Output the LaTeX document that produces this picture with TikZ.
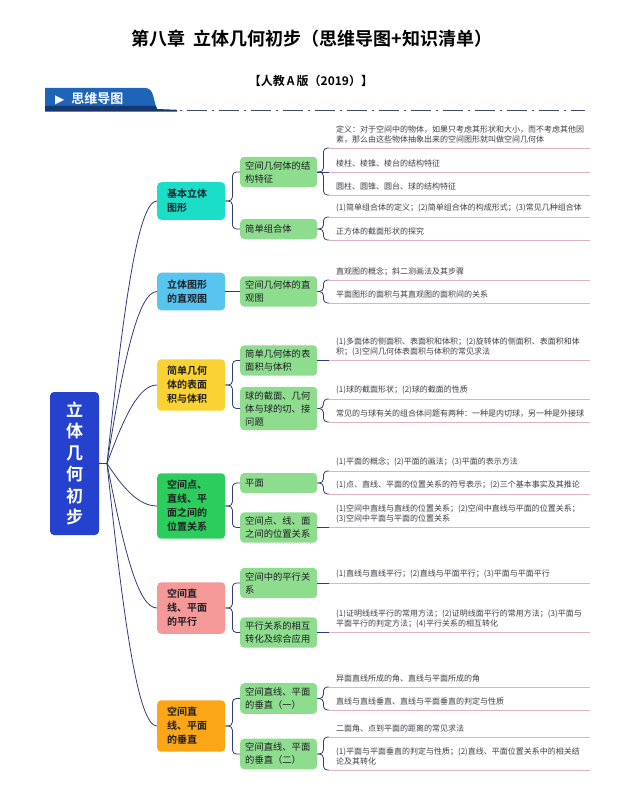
\documentclass[tikz,border=0pt]{standalone}
\usepackage{fontspec}
\setmainfont{Noto Sans CJK SC}[BoldFont={Noto Sans CJK SC Bold}]
\newfontfamily\symfont{DejaVu Sans}
\usepackage{xcolor}
\usepackage{tikz}
\usetikzlibrary{calc}
\definecolor{linkblue}{RGB}{48, 58, 125}
\definecolor{ulpink}{RGB}{222, 178, 196}
\definecolor{rootblue}{RGB}{36, 66, 205}
\definecolor{bannerblue}{RGB}{30, 100, 184}
\definecolor{bannerdark}{RGB}{22, 56, 110}
\definecolor{dashgray}{RGB}{64, 74, 104}
\definecolor{myteal}{RGB}{26, 222, 200}
\definecolor{mysky}{RGB}{88, 196, 240}
\definecolor{myyellow}{RGB}{250, 210, 52}
\definecolor{mygreen}{RGB}{44, 205, 92}
\definecolor{mypink}{RGB}{245, 152, 152}
\definecolor{myorange}{RGB}{250, 166, 22}
\definecolor{subgreen}{RGB}{142, 220, 142}
\definecolor{textdark}{RGB}{30, 30, 36}
\definecolor{leafgray}{RGB}{62, 62, 68}

\begin{document}
\begin{tikzpicture}[
    x=1pt, y=1pt,
    link/.style={draw=linkblue, line width=0.8pt, rounded corners=4pt},
    uline/.style={draw=ulpink, line width=0.8pt},
    mainbox/.style={rounded corners=4pt, anchor=west, text width=48pt, inner xsep=10pt, inner ysep=7pt, align=left, font=\fontsize{10}{14}\selectfont\bfseries, text=textdark},
    subbox/.style={fill=subgreen, rounded corners=4pt, anchor=west, text width=67pt, inner xsep=5pt, inner ysep=4.4pt, minimum height=20pt, align=left, font=\fontsize{9.3}{13}\selectfont, text=textdark},
    leaf/.style={anchor=south west, inner xsep=7pt, inner ysep=4.5pt, align=left, font=\fontsize{8}{10}\selectfont, text=leafgray},
]
    \useasboundingbox (0,0) rectangle (627,-802);

    % --- HEADER ---
    \node[font=\fontsize{18}{20}\selectfont\bfseries] (title) at (312,-39) {第八章\ \ 立体几何初步（思维导图+知识清单）};
    \node[font=\fontsize{12}{14}\selectfont\bfseries] (edition) at (311,-81) {【人教\,A\,版（2019）】};
    \fill[bannerblue] (45,-88) -- (145,-88) to[out=0, in=115] (157,-109) -- (45,-109) -- cycle;
    \fill[bannerdark] (45,-106) -- (156,-106) -- (157,-109) -- (177,-109.8) -- (177,-111.6) -- (45,-111.6) -- cycle;
    \node[anchor=west, inner sep=0pt, text=white, font=\fontsize{13}{15}\selectfont\bfseries] (banner) at (55,-99) {{\symfont\fontsize{12}{14}\selectfont ▶}\hspace{7pt}思维导图};
    \coordinate (dashL) at (180,-110.7);
    \coordinate (dashR) at (585,-110.7);
    \draw[dashgray, line width=1.5pt, dash pattern=on 2pt off 5pt on 20pt off 5pt] (dashL) -- (dashR);

    % --- ROOT ---
    \node[fill=rootblue, rounded corners=4pt, minimum width=49pt, minimum height=143pt, align=center, text=white, font=\fontsize{17}{21.5}\selectfont\bfseries] (root) at (74.5,-463.5) {立\\体\\几\\何\\初\\步};
    \coordinate (hub) at (107,-463.5);
    \draw[link] (root.east) -- (hub);

    % --- LEVEL 1 ---
    \node[mainbox, fill=myteal]   (basic) at (157,-201)   {基本立体\\图形};
    \node[mainbox, fill=mysky]    (view)  at (157,-291.5) {立体图形\\的直观图};
    \node[mainbox, fill=myyellow] (area)  at (157,-385)   {简单几何\\体的表面\\积与体积};
    \node[mainbox, fill=mygreen]  (pos)   at (157,-506)   {空间点、\\直线、平\\面之间的\\位置关系};
    \node[mainbox, fill=mypink]   (para)  at (157,-608)   {空间直\\线、平面\\的平行};
    \node[mainbox, fill=myorange] (perp)  at (157,-726)   {空间直\\线、平面\\的垂直};
    \foreach \m/\a/\d in {basic/84/170, view/81/110, area/70/50, pos/-57/30, para/-79/95, perp/-84/170}
        \draw[link] (hub) to[out=\a, in=180, out distance=\d pt, in distance=18pt] (\m.west);

    % --- LEVEL 2 ---
    \node[subbox] (struct) at (240,-172)   {空间几何体的结\\构特征};
    \node[subbox] (combo)  at (240,-229)   {简单组合体};
    \node[subbox] (intu)   at (240,-291.5) {空间几何体的直\\观图};
    \node[subbox] (surf)   at (240,-360.5) {简单几何体的表\\面积与体积};
    \node[subbox] (ball)   at (240,-408.5) {球的截面、几何\\体与球的切、接\\问题};
    \node[subbox] (plane)  at (240,-483)   {平面};
    \node[subbox] (rel)    at (240,-527.5) {空间点、线、面\\之间的位置关系};
    \node[subbox] (prl)    at (240,-583)   {空间中的平行关\\系};
    \node[subbox] (conv)   at (240,-632.5) {平行关系的相互\\转化及综合应用};
    \node[subbox] (perpa)  at (240,-698.5) {空间直线、平面\\的垂直（一）};
    \node[subbox] (perpb)  at (240,-754)   {空间直线、平面\\的垂直（二）};
    \foreach \m/\s in {basic/struct, basic/combo, area/surf, area/ball, pos/plane, pos/rel, para/prl, para/conv, perp/perpa, perp/perpb}
        \draw[link] (\m.east) -- ++(7,0) |- (\s.west);
    \draw[link] (view.east) -- (intu.west);

    % --- LEAVES ---
    \coordinate (rim) at (590,0);
    \node[leaf] (st1) at (329,-148)   {定义：对于空间中的物体，如果只考虑其形状和大小，而不考虑其他因\\素，那么由这些物体抽象出来的空间图形就叫做空间几何体};
    \node[leaf] (st2) at (329,-172)   {棱柱、棱锥、棱台的结构特征};
    \node[leaf] (st3) at (329,-195)   {圆柱、圆锥、圆台、球的结构特征};
    \node[leaf] (co1) at (329,-217)   {(1)简单组合体的定义；(2)简单组合体的构成形式；(3)常见几种组合体};
    \node[leaf] (co2) at (329,-240)   {正方体的截面形状的探究};
    \node[leaf] (in1) at (329,-280)   {直观图的概念；斜二测画法及其步骤};
    \node[leaf] (in2) at (329,-303)   {平面图形的面积与其直观图的面积间的关系};
    \node[leaf] (su1) at (329,-360.5) {(1)多面体的侧面积、表面积和体积；(2)旋转体的侧面积、表面积和体\\积；(3)空间几何体表面积与体积的常见求法};
    \node[leaf] (ba1) at (329,-399)   {(1)球的截面形状；(2)球的截面的性质};
    \node[leaf] (ba2) at (329,-422)   {常见的与球有关的组合体问题有两种：一种是内切球，另一种是外接球};
    \node[leaf] (pl1) at (329,-471)   {(1)平面的概念；(2)平面的画法；(3)平面的表示方法};
    \node[leaf] (pl2) at (329,-494)   {(1)点、直线、平面的位置关系的符号表示；(2)三个基本事实及其推论};
    \node[leaf] (re1) at (329,-527.5) {(1)空间中直线与直线的位置关系；(2)空间中直线与平面的位置关系；\\(3)空间中平面与平面的位置关系};
    \node[leaf] (pr1) at (329,-583)   {(1)直线与直线平行；(2)直线与平面平行；(3)平面与平面平行};
    \node[leaf] (cv1) at (329,-632.5) {(1)证明线线平行的常用方法；(2)证明线面平行的常用方法；(3)平面与\\平面平行的判定方法；(4)平行关系的相互转化};
    \node[leaf] (pa1) at (329,-687)   {异面直线所成的角、直线与平面所成的角};
    \node[leaf] (pa2) at (329,-710)   {直线与直线垂直、直线与平面垂直的判定与性质};
    \node[leaf] (pb1) at (329,-737)   {二面角、点到平面的距离的常见求法};
    \node[leaf] (pb2) at (329,-770)   {(1)平面与平面垂直的判定与性质；(2)直线、平面位置关系中的相关结\\论及其转化};
    \foreach \s/\l in {struct/st1, struct/st3, combo/co1, combo/co2, intu/in1, intu/in2, ball/ba1, ball/ba2, plane/pl1, plane/pl2, perpa/pa1, perpa/pa2, perpb/pb1, perpb/pb2}
        \draw[link] (\s.east) -- ++(6,0) |- (\l.south west);
    \foreach \s/\l in {struct/st2, surf/su1, rel/re1, prl/pr1, conv/cv1}
        \draw[link] (\s.east) -- (\l.south west);
    \foreach \l in {st1, st2, st3, co1, co2, in1, in2, su1, ba1, ba2, pl1, pl2, re1, pr1, cv1, pa1, pa2, pb1, pb2}
        \draw[uline] (\l.south west) -- (\l.south west -| rim);
\end{tikzpicture}
\end{document}
